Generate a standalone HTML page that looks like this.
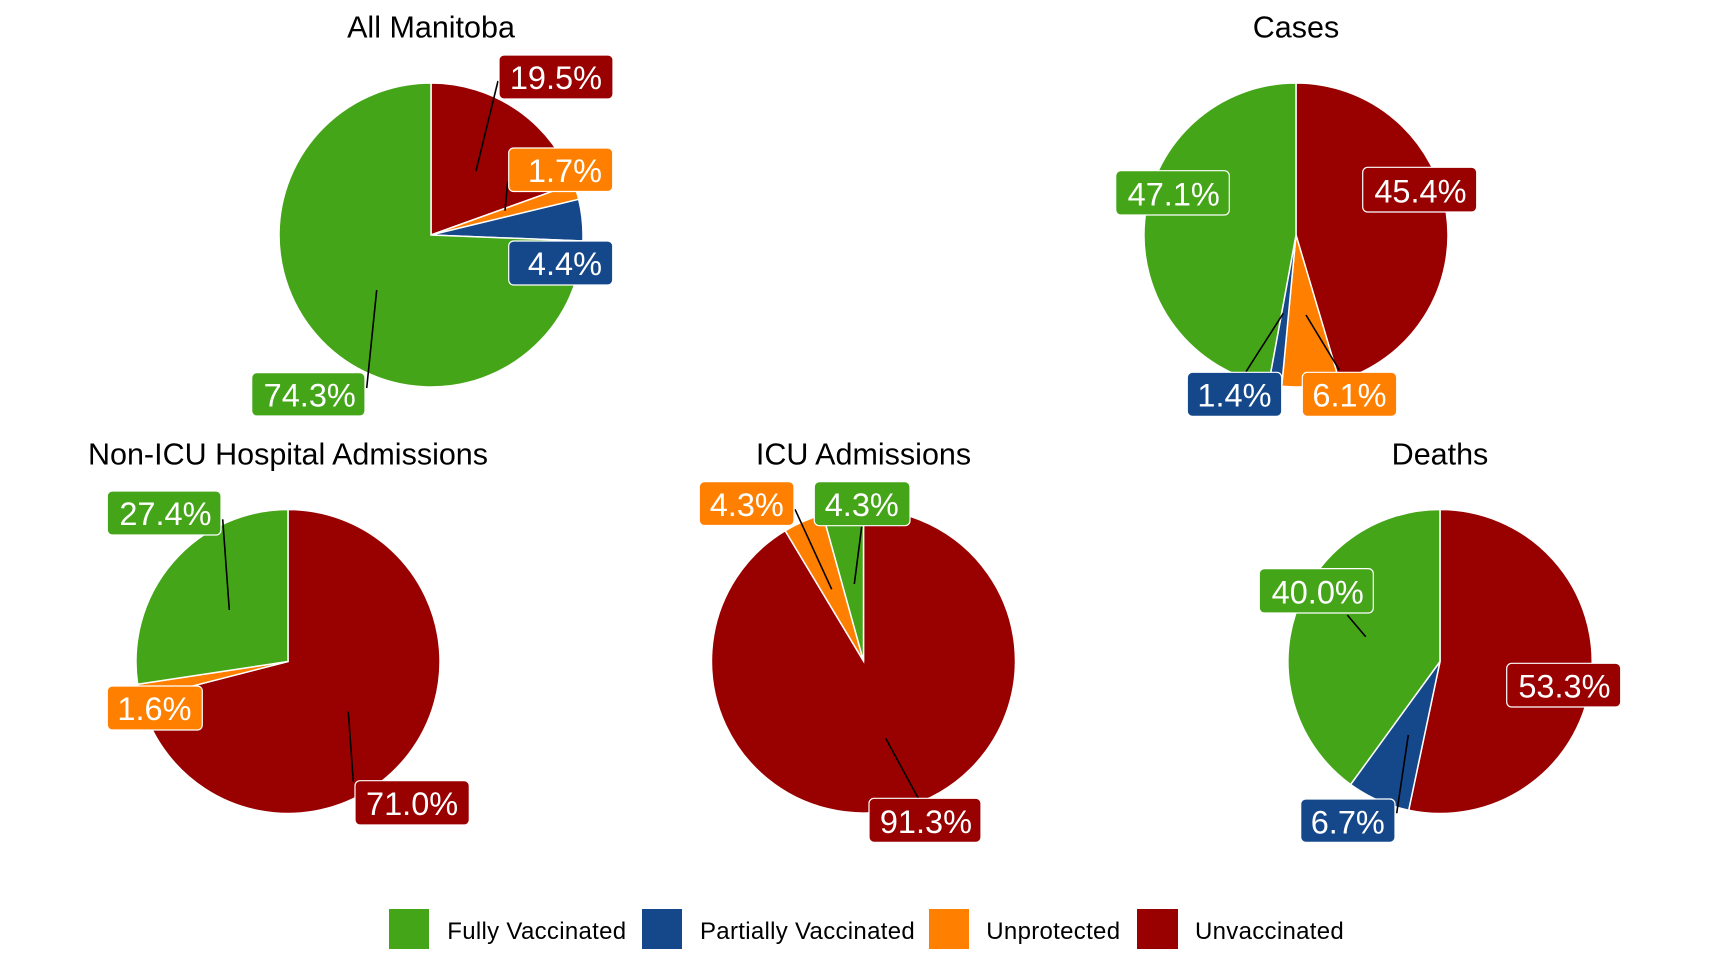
<!DOCTYPE html>
<html>
<head>
<meta charset="utf-8">
<style>
  html, body { margin: 0; padding: 0; background: #ffffff; }
  body { width: 1728px; height: 960px; overflow: hidden; }
  svg { display: block; }
  .title { font-family: "Liberation Sans", Arial, sans-serif; font-size: 30.5px; fill: #000; text-anchor: middle; }
  .lbl { font-family: "Liberation Sans", Arial, sans-serif; font-size: 32.5px; fill: #ffffff; text-anchor: end; }
  .leg { font-family: "Liberation Sans", Arial, sans-serif; font-size: 24px; letter-spacing: 0.3px; fill: #000; }
  .sl { stroke: #ffffff; stroke-width: 1.5; stroke-linejoin: miter; }
  .seg { stroke: #000; stroke-width: 1.6; fill: none; }
  .box { stroke: #ffffff; stroke-width: 1.2; }
</style>
</head>
<body>
<svg width="1728" height="960" viewBox="0 0 1728 960" xmlns="http://www.w3.org/2000/svg">
  <rect x="0" y="0" width="1728" height="960" fill="#ffffff"/>

  <!-- Titles -->
  <text class="title" x="431" y="37.3">All Manitoba</text>
  <text class="title" x="1296" y="37.3">Cases</text>
  <text class="title" x="288" y="464.3">Non-ICU Hospital Admissions</text>
  <text class="title" x="863.5" y="464.3">ICU Admissions</text>
  <text class="title" x="1440" y="464.3">Deaths</text>

  <!-- All Manitoba pie -->
  <g class="sl">
    <path fill="#990000" d="M431,235 L431,83 A152,152 0 0 1 574.0,183.6 Z"/>
    <path fill="#FF8000" d="M431,235 L574.0,183.6 A152,152 0 0 1 578.7,199.3 Z"/>
    <path fill="#15488B" d="M431,235 L578.7,199.3 A152,152 0 0 1 582.9,241.0 Z"/>
    <path fill="#45A519" d="M431,235 L582.9,241.0 A152,152 0 1 1 431,83 Z"/>
  </g>

  <!-- Cases pie -->
  <g class="sl">
    <path fill="#990000" d="M1296,235 L1296,83 A152,152 0 0 1 1339.3,380.7 Z"/>
    <path fill="#FF8000" d="M1296,235 L1339.3,380.7 A152,152 0 0 1 1281.7,386.3 Z"/>
    <path fill="#15488B" d="M1296,235 L1281.7,386.3 A152,152 0 0 1 1268.5,384.5 Z"/>
    <path fill="#45A519" d="M1296,235 L1268.5,384.5 A152,152 0 0 1 1296,83 Z"/>
  </g>

  <!-- Non-ICU pie -->
  <g class="sl">
    <path fill="#990000" d="M288,661.5 L288,509.5 A152,152 0 1 1 140.8,699.3 Z"/>
    <path fill="#FF8000" d="M288,661.5 L140.8,699.3 A152,152 0 0 1 137.7,684.3 Z"/>
    <path fill="#45A519" d="M288,661.5 L137.7,684.3 A152,152 0 0 1 288,509.5 Z"/>
  </g>

  <!-- ICU pie -->
  <g class="sl">
    <path fill="#990000" d="M863.5,661 L863.5,509 A152,152 0 1 1 785.2,530.7 Z"/>
    <path fill="#FF8000" d="M863.5,661 L785.2,530.7 A152,152 0 0 1 822.9,514.5 Z"/>
    <path fill="#45A519" d="M863.5,661 L822.9,514.5 A152,152 0 0 1 863.5,509 Z"/>
  </g>

  <!-- Deaths pie -->
  <g class="sl">
    <path fill="#990000" d="M1440,661.5 L1440,509.5 A152,152 0 1 1 1408.7,810.2 Z"/>
    <path fill="#15488B" d="M1440,661.5 L1408.7,810.2 A152,152 0 0 1 1350.6,784.5 Z"/>
    <path fill="#45A519" d="M1440,661.5 L1350.6,784.5 A152,152 0 0 1 1440,509.5 Z"/>
  </g>

  <!-- Leader segments -->
  <g class="seg">
    <line x1="498" y1="81" x2="476" y2="171"/>
    <line x1="507.7" y1="181.7" x2="505" y2="210.7"/>
    <line x1="376.7" y1="290" x2="366.7" y2="388"/>
    <line x1="1246" y1="371.7" x2="1283.3" y2="313.3"/>
    <line x1="1339.3" y1="370" x2="1306" y2="315"/>
    <line x1="222.7" y1="519.3" x2="229.3" y2="610"/>
    <line x1="348.3" y1="711.7" x2="353.3" y2="781.7"/>
    <line x1="795" y1="509.3" x2="831.7" y2="589.3"/>
    <line x1="861.7" y1="526.7" x2="854.3" y2="584"/>
    <line x1="885.7" y1="738.3" x2="918.3" y2="798.3"/>
    <line x1="1347.3" y1="615" x2="1365.7" y2="636.7"/>
    <line x1="1396.7" y1="813.3" x2="1408.3" y2="735"/>
  </g>

  <!-- Labels: All Manitoba -->
  <rect class="box" x="499" y="55" width="114" height="44" rx="5" fill="#990000"/>
  <text class="lbl" x="602" y="88.8">19.5%</text>
  <rect class="box" x="508.7" y="148" width="104" height="43.5" rx="5" fill="#FF8000"/>
  <text class="lbl" x="602" y="181.8">1.7%</text>
  <rect class="box" x="508.7" y="241" width="104" height="44" rx="5" fill="#15488B"/>
  <text class="lbl" x="602" y="275">4.4%</text>
  <rect class="box" x="251.7" y="372.7" width="113.3" height="43.3" rx="5" fill="#45A519"/>
  <text class="lbl" x="355.8" y="406.3">74.3%</text>

  <!-- Labels: Cases -->
  <rect class="box" x="1115.7" y="170.7" width="113.6" height="44.3" rx="5" fill="#45A519"/>
  <text class="lbl" x="1219.8" y="205.5">47.1%</text>
  <rect class="box" x="1362.7" y="167.3" width="114" height="44.7" rx="5" fill="#990000"/>
  <text class="lbl" x="1466.5" y="202.3">45.4%</text>
  <rect class="box" x="1187.3" y="372.3" width="94.4" height="44" rx="5" fill="#15488B"/>
  <text class="lbl" x="1271.5" y="406.5">1.4%</text>
  <rect class="box" x="1302.3" y="372.3" width="94.4" height="44" rx="5" fill="#FF8000"/>
  <text class="lbl" x="1386.5" y="406.5">6.1%</text>

  <!-- Labels: Non-ICU -->
  <rect class="box" x="107.3" y="491" width="113.7" height="44" rx="5" fill="#45A519"/>
  <text class="lbl" x="211.5" y="525">27.4%</text>
  <rect class="box" x="107.3" y="686" width="95" height="44" rx="5" fill="#FF8000"/>
  <text class="lbl" x="191.5" y="720">1.6%</text>
  <rect class="box" x="355" y="780.7" width="114.3" height="44.3" rx="5" fill="#990000"/>
  <text class="lbl" x="458.2" y="815">71.0%</text>

  <!-- Labels: ICU -->
  <rect class="box" x="699.3" y="481.7" width="94.7" height="43.8" rx="5" fill="#FF8000"/>
  <text class="lbl" x="783.8" y="516">4.3%</text>
  <rect class="box" x="814.3" y="481.7" width="95.7" height="44" rx="5" fill="#45A519"/>
  <text class="lbl" x="898.8" y="516">4.3%</text>
  <rect class="box" x="869" y="798.3" width="112" height="44" rx="5" fill="#990000"/>
  <text class="lbl" x="972" y="833">91.3%</text>

  <!-- Labels: Deaths -->
  <rect class="box" x="1259.3" y="568.6" width="114" height="44.4" rx="5" fill="#45A519"/>
  <text class="lbl" x="1363.8" y="603.5">40.0%</text>
  <rect class="box" x="1506.7" y="663.3" width="114" height="43.7" rx="5" fill="#990000"/>
  <text class="lbl" x="1610.5" y="697.7">53.3%</text>
  <rect class="box" x="1300.7" y="799" width="94.3" height="43.3" rx="5" fill="#15488B"/>
  <text class="lbl" x="1384.8" y="833.3">6.7%</text>

  <!-- Legend -->
  <rect x="389" y="909" width="40" height="40" fill="#45A519"/>
  <text class="leg" x="447.3" y="939">Fully Vaccinated</text>
  <rect x="642" y="909" width="40" height="40" fill="#15488B"/>
  <text class="leg" x="700" y="939">Partially Vaccinated</text>
  <rect x="929" y="909" width="40" height="40" fill="#FF8000"/>
  <text class="leg" x="986.3" y="939">Unprotected</text>
  <rect x="1137" y="909" width="41" height="40" fill="#990000"/>
  <text class="leg" x="1195" y="939">Unvaccinated</text>
</svg>
</body>
</html>
